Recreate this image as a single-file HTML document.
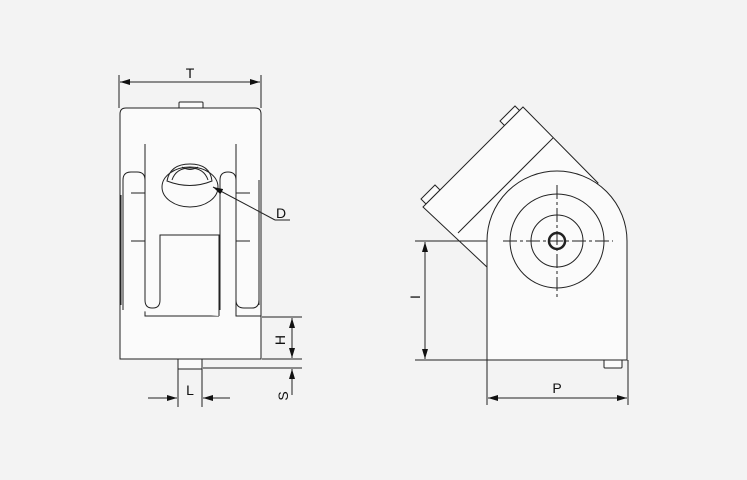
<!DOCTYPE html>
<html><head><meta charset="utf-8"><style>
html,body{margin:0;padding:0;background:#f3f3f3}
svg{display:block}
text{font-family:"Liberation Sans",sans-serif;font-size:14px;fill:#111}
</style></head><body>
<svg width="747" height="480" viewBox="0 0 747 480" xmlns="http://www.w3.org/2000/svg">
<defs>
<marker id="a" viewBox="0 0 10 6" refX="10" refY="3" markerWidth="10" markerHeight="6" orient="auto-start-reverse" markerUnits="userSpaceOnUse"><path d="M0,0 L10,3 L0,6z" fill="#111"/></marker>
</defs>
<g fill="#fbfbfb" stroke="#222" stroke-width="1">
<!-- LEFT VIEW -->
<rect x="179" y="102" width="24" height="7" rx="1"/>
<path d="M120,359 V114 Q120,108 126,108 H255 Q261,108 261,114 V359 Z"/>
<rect x="178" y="359" width="24" height="10" fill="#fbfbfb"/>
<path d="M145,144 V316 H219" fill="none"/>
<path d="M236,144 V316 H261" fill="none"/>
<path d="M123,310 V180 Q123,172 131,172 H137 Q145,172 145,180 V300 Q145,308 152,308 H153 Q160,308 160,300 V235 H219 V316" fill="#fbfbfb"/>
<path d="M220,310 V180 Q220,172 228,172 Q236,172 236,180 V300 Q236,308 244,308 H252 Q259,308 259,300 V180" fill="#fbfbfb"/>
<line x1="131" y1="193" x2="145" y2="193"/><line x1="236" y1="193" x2="250" y2="193"/>
<line x1="131" y1="241" x2="145" y2="241"/><line x1="236" y1="241" x2="250" y2="241"/>
<line x1="121" y1="195" x2="121" y2="305"/><line x1="259" y1="195" x2="259" y2="305"/>
<ellipse cx="190" cy="187" rx="28" ry="20"/>
<path d="M167,181 Q170,164 190,164 Q210,164 212,181 Q190,190 167,181 Z" fill="none"/>
<path d="M172,180 Q176,168 190,168 Q204,168 208,180" fill="none"/>
<path d="M182,167 Q190,172 198,167" fill="none"/>
<!-- dims left -->
<g fill="none">
<line x1="119" y1="75" x2="119" y2="108"/><line x1="261" y1="75" x2="261" y2="108"/>
<line x1="120" y1="82" x2="260" y2="82" marker-start="url(#a)" marker-end="url(#a)"/>
<line x1="213" y1="187" x2="275" y2="220" marker-start="url(#a)"/><line x1="275" y1="220" x2="290" y2="220"/>
<line x1="262" y1="317" x2="302" y2="317"/><line x1="262" y1="359" x2="302" y2="359"/><line x1="203" y1="368" x2="302" y2="368"/>
<line x1="292" y1="318" x2="292" y2="358" marker-start="url(#a)" marker-end="url(#a)"/>
<line x1="292" y1="395" x2="292" y2="369" marker-end="url(#a)"/>
<line x1="178" y1="369" x2="178" y2="407"/><line x1="202" y1="369" x2="202" y2="407"/>
<line x1="148" y1="398" x2="177" y2="398" marker-end="url(#a)"/>
<line x1="230" y1="398" x2="203" y2="398" marker-end="url(#a)"/>
</g>
<!-- RIGHT VIEW -->
<polygon points="520,111 505,126 500,121 515,106"/>
<polygon points="440,190 426,204 421,199 435,185"/>
<polygon points="523,107 598,183 560,245 488,268 423,207"/>
<line x1="553" y1="138" x2="458" y2="233"/>
<rect x="604" y="355" width="18" height="13" rx="1"/>
<path d="M487,360 V241 A70,70 0 0 1 627,241 V360 Z"/>
<circle cx="557" cy="241" r="47"/>
<circle cx="557" cy="241" r="26"/>
<circle cx="557" cy="241" r="8" stroke-width="2.5"/>
<g fill="none">
<line x1="503" y1="241" x2="613" y2="241" stroke-dasharray="14,3,3,3"/>
<line x1="557" y1="185" x2="557" y2="297" stroke-dasharray="14,3,3,3"/>
<line x1="415" y1="241" x2="487" y2="241"/><line x1="415" y1="360" x2="487" y2="360"/>
<line x1="425" y1="242" x2="425" y2="359" marker-start="url(#a)" marker-end="url(#a)"/>
<line x1="487" y1="360" x2="487" y2="405"/><line x1="628" y1="360" x2="628" y2="405"/>
<line x1="488" y1="398" x2="627" y2="398" marker-start="url(#a)" marker-end="url(#a)"/>
</g>
</g>
<text x="190" y="78" text-anchor="middle">T</text>
<text x="276" y="218">D</text>
<text x="190" y="395" text-anchor="middle">L</text>
<text transform="translate(285,340) rotate(-90)" text-anchor="middle">H</text>
<text transform="translate(288,396) rotate(-90)" text-anchor="middle">S</text>
<text transform="translate(420,297) rotate(-90)" text-anchor="middle">I</text>
<text x="557" y="393" text-anchor="middle">P</text>
</svg>
</body></html>
